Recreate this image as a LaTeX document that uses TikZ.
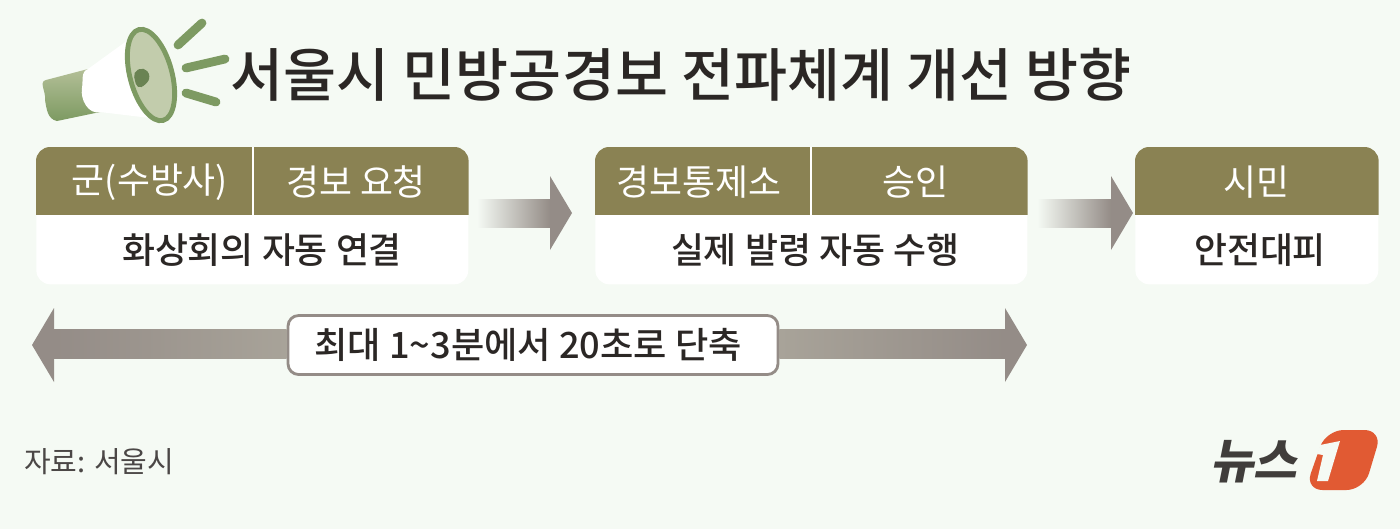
\documentclass[tikz,border=0pt]{standalone}
\usepackage{fontspec}
\setmainfont{Noto Sans CJK KR}
\newfontfamily\medfont{Noto Sans CJK KR Medium}
\usetikzlibrary{calc,shapes.geometric}
\definecolor{bgcol}{HTML}{F5FAF4}
\definecolor{headcol}{HTML}{8A8253}
\definecolor{arrowcol}{HTML}{948C87}
\definecolor{midcol}{HTML}{A8A399}
\definecolor{inkcol}{HTML}{2B2725}
\definecolor{leafcol}{HTML}{7D9A62}
\definecolor{palecol}{HTML}{B3BF97}
\definecolor{onecol}{HTML}{E15A33}
\tikzset{
card/.style={fill=white,rounded corners=8pt,minimum height=2.74cm,inner sep=0pt},
headtxt/.style={text=white,font=\fontsize{20.4}{22}\selectfont},
bodytxt/.style={text=inkcol,font=\medfont\fontsize{20.4}{22}\selectfont},
ray/.style={draw=leafcol,line width=5pt,line cap=round}
}
\newcommand{\blockarrow}[2]{
\path let \p1=(#1),\p2=(#2) in coordinate (hb) at (\x2-0.44cm,\y2);
\shade[left color=bgcol,right color=arrowcol] ($(#1)+(0,-14)$) rectangle ($(hb)+(0,14)$);
\fill[arrowcol] ($(hb)+(0,-37)$) -- (#2) -- ($(hb)+(0,37)$) -- cycle;
}
\newcommand{\cardhead}[1]{
\fill[headcol] ([yshift=-1.36cm]#1.north west) [rounded corners=8pt] -- (#1.north west) -- (#1.north east) [sharp corners] -- ([yshift=-1.36cm]#1.north east) -- cycle;
}
\begin{document}
\begin{tikzpicture}[x=0.02cm,y=-0.02cm]
\useasboundingbox[fill=bgcol] (0,0) rectangle (1400,529);
\fill[white] (45,100) to[out=-80,in=180] (50,84) -- (57,121) to[out=180,in=-70] cycle;
\shade[top color=palecol,bottom color=leafcol] (46,80) -- (88,69) -- (100,112) -- (57,121) to[out=170,in=-80] (45,100) to[out=80,in=190] cycle;
\fill[white] (88,69) -- (128,40) -- (150,118) -- (100,112) to[out=195,in=-100] (82,88) to[out=80,in=200] cycle;
\fill[palecol!80!white,draw=leafcol,line width=2.8pt,rotate around={15:(151,75)}] (151,75) ellipse [x radius=21,y radius=47];
\fill[leafcol!85!black,rounded corners=3pt] (133,72) -- (144,67) -- (151,76) -- (146,85) -- (137,89) -- cycle;
\draw[ray] (178,45) -- (202,23);
\draw[ray] (186,68) -- (225,59);
\draw[ray] (186,93) -- (216,102);
\node[text=inkcol,font=\medfont\fontsize{32.8}{34}\selectfont] (title) at (681,75) {서울시 민방공경보 전파체계 개선 방향};
\node[card,minimum width=8.64cm,anchor=north west] (box1) at (36,147) {};
\node[card,minimum width=8.64cm,anchor=north west] (box2) at (595,147) {};
\node[card,minimum width=4.86cm,anchor=north west] (box3) at (1135,147) {};
\cardhead{box1}
\cardhead{box2}
\cardhead{box3}
\draw[white,line width=1.5pt] (253,147) -- (253,215);
\draw[white,line width=1.5pt] (811,147) -- (811,215);
\node[headtxt] (a1) at (150,182) {군(수방사)};
\node[headtxt] (a2) at (356,182) {경보 요청};
\node[headtxt] (b1) at (699,182) {경보통제소};
\node[headtxt] (b2) at (915,182) {승인};
\node[headtxt] (c1) at (1256,182) {시민};
\node[bodytxt] (a3) at (262,250) {화상회의 자동 연결};
\node[bodytxt] (b3) at (815,250) {실제 발령 자동 수행};
\node[bodytxt] (c3) at (1260,250) {안전대피};
\coordinate (s1) at (477,213);
\coordinate (e1) at (572,213);
\coordinate (s2) at (1037,213);
\coordinate (e2) at (1133,213);
\blockarrow{s1}{e1}
\blockarrow{s2}{e2}
\node[draw=arrowcol,line width=1.6pt,fill=white,rounded corners=6pt,minimum width=9.8cm,minimum height=1.18cm,inner sep=0pt] (span) at (533,345) {};
\node[text=inkcol,font=\medfont\fontsize{20.6}{22}\selectfont] (spantxt) at (528,345) {최대 1\textasciitilde 3분에서 20초로 단축};
\coordinate (tl) at (32,345);
\coordinate (tr) at (1027,345);
\shade[left color=arrowcol,right color=midcol] (54,329) rectangle (span.west |- 0,358);
\shade[left color=midcol,right color=arrowcol] (span.east |- 0,329) rectangle (1005,358);
\fill[arrowcol] (tl) -- (54,308) -- (54,382) -- cycle;
\fill[arrowcol] (tr) -- (1005,308) -- (1005,382) -- cycle;
\node[text=inkcol!85!white,font=\fontsize{16.5}{18}\selectfont,anchor=west] (src) at (18,462) {자료: 서울시};
\begin{scope}[shift={(1257,462)},xslant=0.2,transform shape]
\node[text=inkcol!90!white,font=\fontsize{27}{28}\selectfont\bfseries] (news) at (0,0) {뉴스};
\end{scope}
\fill[onecol,rounded corners=10pt] (1326,430) -- (1382,430) -- (1364,490) -- (1305,490) -- cycle;
\fill[bgcol] (1340,441) -- (1328,481) -- (1317,481) -- (1323,455) -- (1317,454) -- (1320,445) -- cycle;
\end{tikzpicture}
\end{document}
